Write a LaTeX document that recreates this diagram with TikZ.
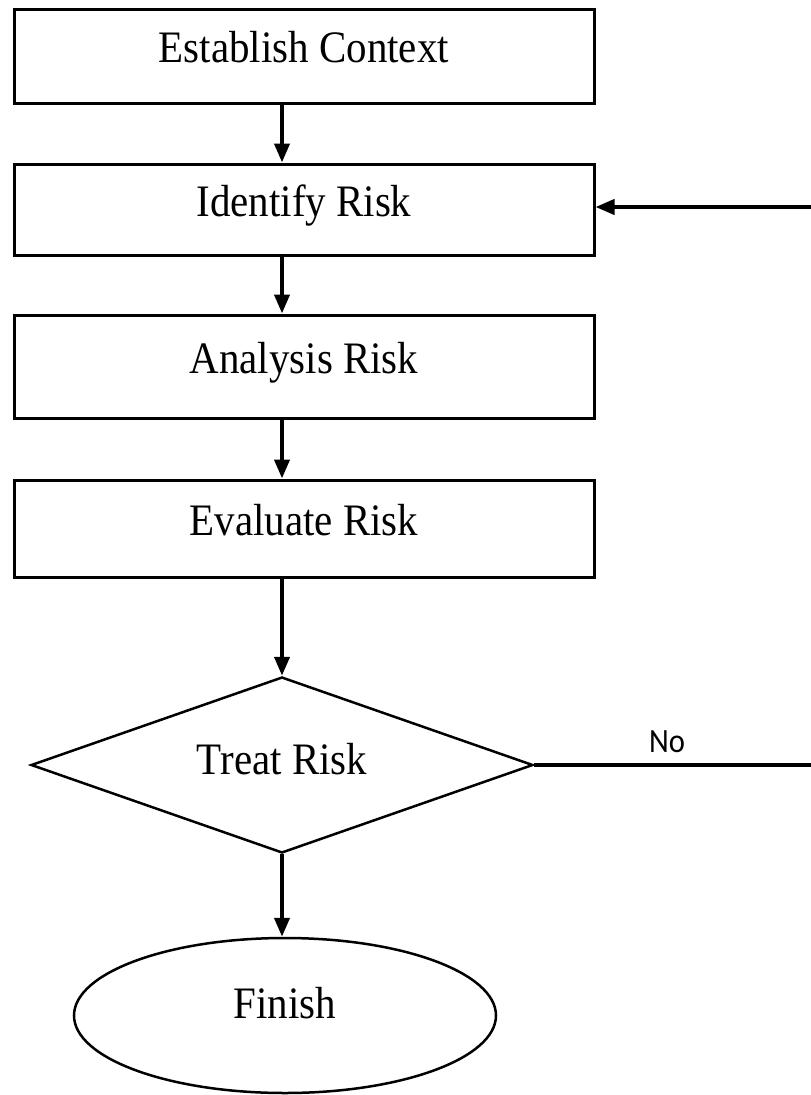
\documentclass[tikz,border=0pt]{standalone}
\usepackage{fontspec}
\setmainfont[FakeStretch=0.91]{Liberation Serif}
\newfontfamily\labelfont[FakeStretch=0.9]{Carlito}
\usetikzlibrary{arrows.meta,shapes.geometric}
\begin{document}
\begin{tikzpicture}[x=1pt,y=-1pt,
  every node/.style={font=\fontsize{45}{52}\selectfont},
  stepbox/.style={draw, rectangle, line width=3pt, minimum width=580pt,
    inner sep=0pt, text height=30pt, text depth=17pt},
  decision/.style={draw, diamond, line width=2.5pt, minimum width=502pt,
    minimum height=176pt, aspect=2.85, inner sep=0pt,
    text height=30pt, text depth=11pt},
  terminal/.style={draw, ellipse, line width=2.5pt, minimum width=422pt,
    minimum height=155pt, inner sep=0pt, text height=30pt, text depth=25pt},
  flow/.style={line width=4pt, -{Triangle[width=15pt,length=19pt]}},
  link/.style={line width=4.5pt},
  answer/.style={font=\labelfont\fontsize{34}{40}\selectfont, inner sep=0pt}]
  \useasboundingbox (0,0) rectangle (811,1095);

  % process steps
  \node[stepbox, minimum height=94pt]  (b1) at (304,56.3)  {Establish Context};
  \node[stepbox, minimum height=91pt]  (b2) at (304,209.5) {Identify Risk};
  \node[stepbox, minimum height=103pt] (b3) at (304,366.5) {Analysis Risk};
  \node[stepbox, minimum height=97pt]  (b4) at (304,528.5) {Evaluate Risk};

  % decision and end
  \node[decision] (d) at (282,765) {Treat Risk};
  \node[terminal] (e) at (285,1015.5) {Finish};

  % vertical flow axis and loop-back ends at the right margin
  \coordinate (ax) at (282,0);
  \coordinate (rin) at (811,207);
  \coordinate (rout) at (811,767);

  \draw[flow] (b1.south -| ax) -- (b2.north -| ax);
  \draw[flow] (b2.south -| ax) -- (b3.north -| ax);
  \draw[flow] (b3.south -| ax) -- (b4.north -| ax);
  \draw[flow] (b4.south -| ax) -- (d.north);
  \draw[flow] (d.south) -- (e.north -| d.south);

  \draw[flow] (rin) -- (b2.east |- rin);
  \draw[link] (d.east) -- (d.east -| rout);
  \node[answer] (no) at (667,742) {No};
\end{tikzpicture}
\end{document}
